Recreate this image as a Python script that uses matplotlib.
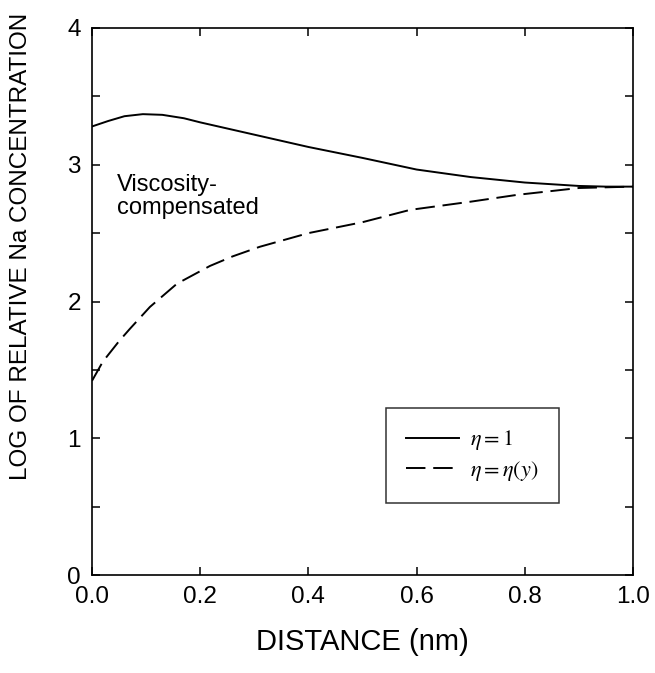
import matplotlib
matplotlib.use("Agg")
import matplotlib.pyplot as plt
from matplotlib.ticker import MultipleLocator

plt.rcParams["font.family"] = ["Liberation Sans", "DejaVu Sans"]
plt.rcParams["mathtext.fontset"] = "stix"

# solid curve: eta = 1
dist_const = [0.0, 0.03, 0.06, 0.094, 0.13, 0.17, 0.2, 0.25, 0.3, 0.35, 0.4, 0.5, 0.6, 0.7, 0.8, 0.9, 0.95, 1.0]
conc_const = [3.28, 3.32, 3.355, 3.37, 3.365, 3.34, 3.31, 3.265, 3.22, 3.175, 3.13, 3.05, 2.965, 2.91, 2.87, 2.845, 2.84, 2.84]

# dashed curve: eta = eta(y)
dist_visc = [0.0, 0.02, 0.05, 0.07, 0.107, 0.157, 0.218, 0.26, 0.31, 0.4, 0.5, 0.588, 0.7, 0.786, 0.9, 1.0]
conc_visc = [1.42, 1.56, 1.71, 1.80, 1.96, 2.13, 2.26, 2.33, 2.40, 2.50, 2.58, 2.67, 2.73, 2.78, 2.83, 2.84]

fig = plt.figure(figsize=(6.55, 6.73), dpi=100)
ax = fig.add_axes([92 / 655, 98 / 673, 541 / 655, 547 / 673])

ax.plot(dist_const, conc_const, color="black", lw=1.4, label=r"$\eta = 1$")
ax.plot(dist_visc, conc_visc, color="black", lw=1.4, dashes=(10, 4), label=r"$\eta = \eta(y)$")

ax.set_xlim(0, 1)
ax.set_ylim(0, 4)
ax.xaxis.set_major_locator(MultipleLocator(0.2))
ax.yaxis.set_major_locator(MultipleLocator(1))
ax.yaxis.set_minor_locator(MultipleLocator(0.5))
ax.xaxis.set_major_formatter(matplotlib.ticker.FormatStrFormatter("%.1f"))
ax.tick_params(which="both", direction="in", top=True, right=True, labelsize=17.5, width=1.1, pad=8)
ax.tick_params(which="major", length=6)
ax.tick_params(which="minor", length=6)
for sp in ax.spines.values():
    sp.set_linewidth(1.2)

ax.set_xlabel("DISTANCE (nm)", fontsize=21, labelpad=14)
ax.set_ylabel("LOG OF RELATIVE Na CONCENTRATION", fontsize=17.5, labelpad=12)
ax.yaxis.set_label_coords(-0.11, 0.6)

ax.text(0.046, 2.93, "Viscosity-\ncompensated", fontsize=17, va="top", ha="left", linespacing=1.05)

leg = ax.legend(loc="center", bbox_to_anchor=(0.703, 0.218), fontsize=16, frameon=True,
                fancybox=False, edgecolor="black", handlelength=2.4, borderpad=0.9,
                labelspacing=0.3, handletextpad=0.5)
leg.get_frame().set_linewidth(1.1)

fig.savefig("out.png", dpi=100)
